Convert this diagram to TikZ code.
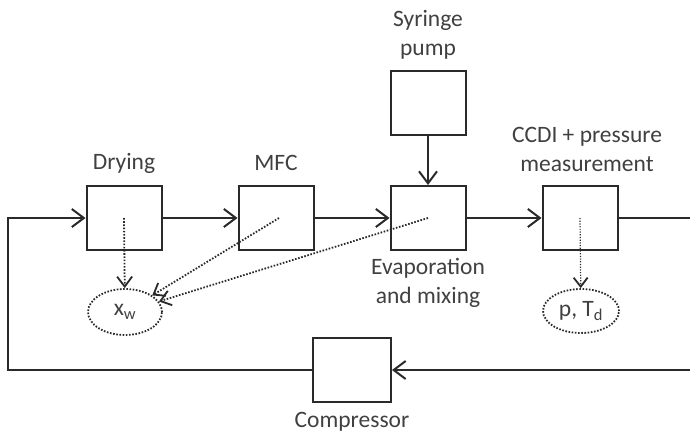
\documentclass[tikz,border=0pt]{standalone}
\usepackage{fontspec}
\setmainfont{Carlito}
\usetikzlibrary{arrows.meta,shapes.geometric}
\definecolor{lbgray}{HTML}{404040}
\definecolor{lnblack}{HTML}{2A2A2A}

\tikzset{
 unitbox/.style={draw=lnblack,line width=2pt,minimum width=75pt,minimum height=64pt,inner sep=0pt},
 readout/.style={ellipse,draw=lnblack,line width=1.8pt,dash pattern=on 1.6pt off 1.6pt,
  minimum width=74pt,minimum height=46pt,inner sep=0pt,text=lbgray},
 flow/.style={lnblack,line width=2pt},
 flowarrow/.style={flow,-{Straight Barb[length=12pt,width=18pt,line width=2pt]}},
 probe/.style={lnblack,line width=1.8pt,dash pattern=on 1.6pt off 1.6pt,
  -{Straight Barb[length=10pt,width=15pt,line width=1.8pt,sep=0pt]}},
 fineprobe/.style={probe,line width=1.2pt,dash pattern=on 1.2pt off 1.5pt,
  -{Straight Barb[length=9pt,width=14pt,line width=1.8pt,sep=0pt]}},
 caption/.style={text=lbgray,align=center}
}

\begin{document}
\begin{tikzpicture}[x=1pt,y=-1pt,font=\fontsize{23.5}{29}\selectfont]
\useasboundingbox (0,0) rectangle (690,436);
% units along the loop
\node[unitbox] (dry) at (124,218) {};
\node[unitbox] (mfc) at (276,218) {};
\node[unitbox] (evap) at (428,218) {};
\node[unitbox] (ccdi) at (580,218) {};
\node[unitbox] (pump) at (428,103) {};
\node[unitbox,minimum width=78pt] (comp) at (352,370) {};
% measured quantities
\node[readout] (xw) at (125,312) {x\textsubscript{w}};
\node[readout,minimum width=76pt,minimum height=44pt] (ptd) at (581,311) {p, T\textsubscript{d}};
% labels
\node[caption] (drylbl) at (124,163) {Drying};
\node[caption] (mfclbl) at (276,163) {MFC};
\node[caption] (pumplbl) at (428,35) {Syringe\\pump};
\node[caption] (evaplbl) at (428,283) {Evaporation\\and mixing};
\node[caption] (ccdilbl) at (587,149) {CCDI + pressure\\measurement};
\node[caption] (complbl) at (352,422) {Compressor};
% free ends of the loop
\coordinate (outR) at (690,218);
\coordinate (inR) at (690,370);
\coordinate (cornerBL) at (8,370);
\coordinate (cornerTL) at (8,218);
\draw[flowarrow] (dry) -- (mfc);
\draw[flowarrow] (mfc) -- (evap);
\draw[flowarrow] (evap) -- (ccdi);
\draw[flowarrow] (pump) -- (evap);
\draw[flow] (ccdi) -- (outR);
\draw[flowarrow] (inR) -- (comp);
\draw[flowarrow] (comp) -- (cornerBL) -- (cornerTL) -- (dry);
% sensor signals
\draw[probe] (dry.center) -- (xw);
\draw[probe] ([xshift=3pt]mfc.center) -- (xw);
\draw[probe] (evap.center) -- (xw);
\draw[fineprobe] (ccdi.center) -- (ptd);
\end{tikzpicture}
\end{document}
